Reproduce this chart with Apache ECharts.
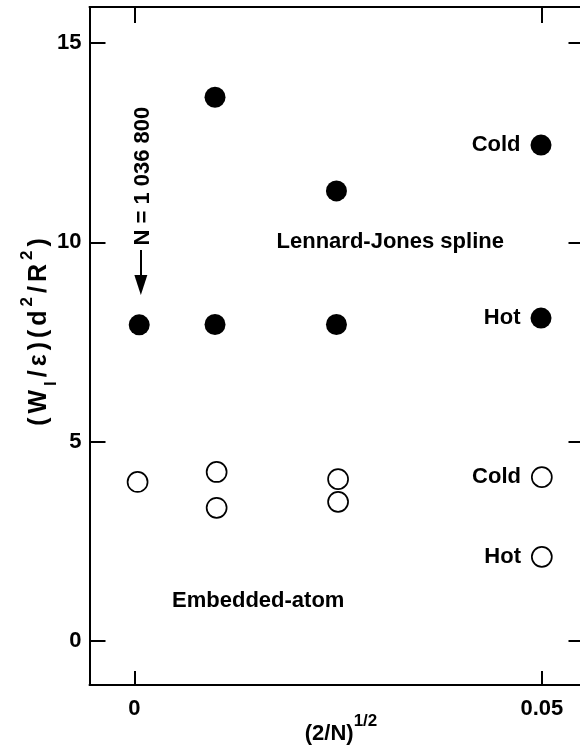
<!DOCTYPE html>
<html>
<head>
<meta charset="utf-8">
<script src="https://cdn.jsdelivr.net/npm/echarts@6/dist/echarts.min.js"></script>
<style>
html,body{margin:0;padding:0;background:#fff;}
#main{width:580px;height:750px;}
</style>
</head>
<body>
<div id="main"></div>
<script>
// ---- data ----
const filledX = [0.0006, 0.0099, 0.0099, 0.0248, 0.0248, 0.0499, 0.0499];
const filledY = [7.93, 13.64, 7.94, 11.29, 7.94, 12.44, 8.10];
const filledTags = ['', '', '', '', '', 'Cold', 'Hot'];
const openX = [0.0004, 0.0101, 0.0101, 0.0250, 0.0250, 0.0500, 0.0500];
const openY = [3.99, 4.24, 3.34, 4.06, 3.49, 4.11, 2.11];
const openTags = ['', '', '', '', '', 'Cold', 'Hot'];
const xTicks = [0, 0.05];
const xTickLabels = ['0', '0.05'];
const yTicks = [0, 5, 10, 15];
const yTickLabels = ['0', '5', '10', '15'];
const noteText = ['Lennard-Jones spline', 'Embedded-atom', 'N = 1 036 800'];
const noteX = [0.0314, 0.0152, 0.0010];
const noteY = [10.0, 1.0, 11.66];
const noteRotate = [0, 0, 90];
const arrowX = [0.0008, 0.0008];
const arrowY = [9.81, 8.93];

const FONT = "'Liberation Sans', Arial, Helvetica, sans-serif";
const BLACK = '#000';

const chart = echarts.init(document.getElementById('main'), null, {renderer: 'canvas'});

const labelStyle = {color: BLACK, fontFamily: FONT, fontWeight: 'bold', fontSize: 22, opacity: 1};
const lineStyle = {color: BLACK, width: 2};

function mkPoints(xs, ys, tags) {
  return xs.map((x, i) => ({
    value: [x, ys[i]],
    label: tags[i] ? Object.assign({show: true, formatter: tags[i], position: 'left', distance: 10}, labelStyle) : {show: false}
  }));
}

const tickFmt = (v) => {
  const i = xTicks.indexOf(v);
  return i >= 0 ? xTickLabels[i] : '';
};
const yFmt = (v) => {
  const i = yTicks.indexOf(v);
  return i >= 0 ? yTickLabels[i] : '';
};

// y-axis title pieces
const yTitleParts = [['m','('],['m','W'],['sub','l'],['m','/'],['m','ε'],['m',')'],['m','('],['m','d'],['sup','2'],['m','/'],['m','R'],['sup','2'],['m',')']];
const yTitleText = yTitleParts.map(p => '{' + p[0] + '|' + p[1] + '}').join('');

const X_MIN = -0.0055, X_MAX = 0.05548;
const Y_MIN = -1.104, Y_MAX = 15.903;

const option = {
  animation: false,
  backgroundColor: '#fff',
  grid: {left: 89.5, top: 7, width: 497, height: 678, containLabel: false, outerBoundsMode: 'none'},
  xAxis: [
    {
      type: 'value', position: 'bottom', min: X_MIN, max: X_MAX,
      axisLine: {show: true, onZero: false, lineStyle: lineStyle},
      axisTick: {show: true, inside: true, length: 14, lineStyle: lineStyle, customValues: xTicks},
      axisLabel: Object.assign({show: true, margin: 13, customValues: xTicks, formatter: tickFmt}, labelStyle),
      splitLine: {show: false}
    },
    {
      type: 'value', position: 'top', min: X_MIN, max: X_MAX,
      axisLine: {show: true, onZero: false, lineStyle: lineStyle},
      axisTick: {show: true, inside: true, length: 16, lineStyle: lineStyle, customValues: xTicks},
      axisLabel: {show: false},
      splitLine: {show: false}
    }
  ],
  yAxis: [
    {
      type: 'value', position: 'left', min: Y_MIN, max: Y_MAX,
      axisLine: {show: true, onZero: false, lineStyle: lineStyle},
      axisTick: {show: true, inside: true, length: 16, lineStyle: lineStyle, customValues: yTicks},
      axisLabel: Object.assign({show: true, margin: 8, customValues: yTicks, formatter: yFmt}, labelStyle),
      splitLine: {show: false}
    },
    {
      type: 'value', position: 'right', min: Y_MIN, max: Y_MAX,
      axisLine: {show: true, onZero: false, lineStyle: lineStyle},
      axisTick: {show: true, inside: true, length: 18, lineStyle: lineStyle, customValues: yTicks},
      axisLabel: {show: false},
      splitLine: {show: false}
    }
  ],
  series: [
    {
      type: 'scatter', name: 'filled', xAxisIndex: 0, yAxisIndex: 0,
      symbol: 'circle', symbolSize: 21,
      itemStyle: {color: BLACK, opacity: 1},
      emphasis: {disabled: true},
      data: mkPoints(filledX, filledY, filledTags)
    },
    {
      type: 'scatter', name: 'open', xAxisIndex: 0, yAxisIndex: 0,
      symbol: 'circle', symbolSize: 20,
      itemStyle: {color: '#fff', borderColor: BLACK, borderWidth: 1.7, opacity: 1},
      emphasis: {disabled: true},
      data: mkPoints(openX, openY, openTags)
    },
    {
      type: 'scatter', name: 'notes', xAxisIndex: 0, yAxisIndex: 0,
      symbolSize: 0, silent: true,
      itemStyle: {opacity: 1},
      emphasis: {disabled: true},
      data: noteX.map((x, i) => ({
        value: [x, noteY[i]],
        label: Object.assign({show: true, position: 'inside', formatter: noteText[i], rotate: noteRotate[i], align: 'center', verticalAlign: 'middle'}, labelStyle)
      }))
    },
    {
      type: 'line', name: 'arrow', xAxisIndex: 0, yAxisIndex: 0,
      data: [], silent: true,
      markLine: {
        silent: true, animation: false,
        symbol: ['none', 'triangle'], symbolSize: [13, 20],
        lineStyle: {color: BLACK, width: 2, type: 'solid', opacity: 1},
        itemStyle: {color: BLACK},
        label: {show: false},
        emphasis: {disabled: true},
        data: [[{coord: [arrowX[0], arrowY[0]]}, {coord: [arrowX[1], arrowY[1]]}]]
      }
    }
  ],
  graphic: [
    {
      type: 'text', x: 39, y: 332, rotation: Math.PI / 2,
      style: {
        text: yTitleText,
        align: 'center', verticalAlign: 'middle',
        fill: BLACK,
        rich: {
          m: {fontFamily: FONT, fontWeight: 'bold', fontSize: 25, lineHeight: 41, verticalAlign: 'middle', fill: BLACK, padding: [0, 2]},
          sup: {fontFamily: FONT, fontWeight: 'bold', fontSize: 17, lineHeight: 17, verticalAlign: 'top', fill: BLACK, padding: [0, 2]},
          sub: {fontFamily: FONT, fontWeight: 'bold', fontSize: 17, lineHeight: 17, verticalAlign: 'bottom', fill: BLACK, padding: [0, 2]}
        }
      }
    },
    {
      type: 'text', x: 341, y: 734,
      style: {
        text: '{m|(2/N)}{sup|1/2}',
        align: 'center', verticalAlign: 'middle',
        fill: BLACK,
        rich: {
          m: {fontFamily: FONT, fontWeight: 'bold', fontSize: 22, lineHeight: 43, verticalAlign: 'middle', fill: BLACK},
          sup: {fontFamily: FONT, fontWeight: 'bold', fontSize: 17, lineHeight: 17, verticalAlign: 'top', fill: BLACK}
        }
      }
    }
  ]
};
chart.setOption(option);
</script>
</body>
</html>
